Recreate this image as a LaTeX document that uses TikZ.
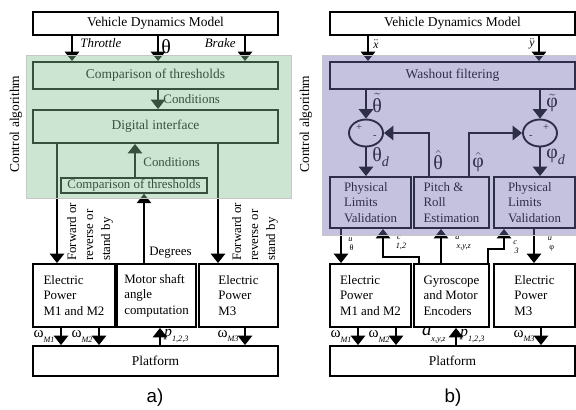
\documentclass[tikz,border=0pt]{standalone}
\usepackage{fontspec}
\setmainfont{Liberation Serif}
\newfontfamily\panelfont{Liberation Sans}
\usepackage{tikz}
\usetikzlibrary{arrows.meta,shapes.geometric}
\definecolor{ctrlgreen}{RGB}{133, 193, 150}
\definecolor{ctrlpurple}{RGB}{114, 110, 176}
\newcommand\lowsub[1]{\raisebox{-0.7ex}{\fontsize{7}{7}\selectfont\itshape #1}}
\tikzset{
  block/.style={draw, line width=1.6pt, inner sep=0pt, align=left,
    font=\fontsize{11}{13.2}\selectfont},
  wide/.style={block, minimum width=7.35cm, font=\fontsize{11.5}{13.2}\selectfont},
  sumnode/.style={draw, ellipse, line width=1.6pt, minimum width=1.02cm, minimum height=0.81cm, inner sep=0pt},
  flow/.style={line width=2.4pt, -{Triangle[width=12pt,length=8pt]}},
  lbl/.style={inner sep=1pt, font=\fontsize{11}{13}\selectfont},
  big/.style={inner sep=1pt, font=\fontsize{17}{17}\selectfont},
  tinylbl/.style={inner sep=0pt, align=left, font=\fontsize{7}{7.5}\selectfont},
  sign/.style={inner sep=0pt, font=\fontsize{9}{9}\selectfont},
  bgbox/.style={draw=black!22, line width=0.8pt, fill opacity=0.42}
}

\begin{document}
\begin{tikzpicture}[x=0.03cm,y=-0.03cm]
\useasboundingbox (0,0) rectangle (576,409);

\node[wide, minimum height=0.69cm] (vdmA) at (155.5,23.5) {Vehicle Dynamics Model};
\node[wide, minimum height=0.81cm] (cmpA) at (155.5,75.5) {Comparison of thresholds};
\node[wide, minimum height=0.99cm] (digA) at (155.5,126.5) {Digital interface};
\node[block, line width=1.2pt, minimum width=4.38cm, minimum height=0.45cm] (smallA) at (134,185.5) {Comparison of thresholds};
\node[block, minimum width=2.46cm, minimum height=1.89cm] (epA1) at (74,295.5) {Electric\\Power\\M1 and M2};
\node[block, minimum width=2.37cm, minimum height=1.89cm] (motA) at (156.5,295.5) {Motor shaft\\angle\\computation};
\node[block, minimum width=2.37cm, minimum height=1.89cm] (epA3) at (238.5,295.5) {Electric\\Power\\M3};
\node[wide, minimum height=0.9cm] (platA) at (155.5,361) {Platform};

\draw[flow] (vdmA.south -| 72,0) -- (cmpA.north -| 72,0);
\draw[flow] (vdmA.south -| 158,0) -- (cmpA.north -| 158,0);
\draw[flow] (vdmA.south -| 245,0) -- (cmpA.north -| 245,0);
\draw[flow] (cmpA.south -| 158,0) -- (digA.north -| 158,0);
\draw[flow] (digA.south -| 57,0) -- (epA1.north -| 57,0);
\draw[flow] (digA.south -| 218,0) -- (epA3.north -| 218,0);
\draw[flow] (smallA.north -| 135,0) -- (digA.south -| 135,0);
\draw[flow] (motA.north -| 144,0) -- (smallA.south -| 144,0);
\draw[flow] (epA1.south -| 61,0) -- (platA.north -| 61,0);
\draw[flow] (epA1.south -| 99,0) -- (platA.north -| 99,0);
\draw[flow] (platA.north -| 160,0) -- (motA.south -| 160,0);
\draw[flow] (epA3.south -| 245,0) -- (platA.north -| 245,0);

\node[lbl, anchor=west, font=\fontsize{11}{13}\selectfont\itshape] (throttle) at (79,43) {Throttle};
\node[big, anchor=west] (thetaA) at (160,47) {θ};
\node[lbl, anchor=east, font=\fontsize{11}{13}\selectfont\itshape] (brake) at (237,43) {Brake};
\node[lbl, anchor=west] (condA1) at (162,99) {Conditions};
\node[lbl, anchor=west] (condA2) at (142,162) {Conditions};
\node[lbl, anchor=west] (degrees) at (148,253) {Degrees};
\node[lbl, rotate=90, align=left, font=\fontsize{11}{14.5}\selectfont] (fwdA1) at (90,232) {Forward or\\reverse or\\stand by};
\node[lbl, rotate=90, align=left, font=\fontsize{11}{14.5}\selectfont] (fwdA3) at (255,232) {Forward or\\reverse or\\stand by};
\node[big, anchor=east, font=\fontsize{13}{13}\selectfont] (omA1) at (56,336) {ω\lowsub{M1}};
\node[big, anchor=east, font=\fontsize{13}{13}\selectfont] (omA2) at (94,336) {ω\lowsub{M2}};
\node[big, anchor=west, font=\fontsize{13}{13}\selectfont] (pA) at (163,336) {\textit{p}\lowsub{1,2,3}};
\node[big, anchor=east, font=\fontsize{13}{13}\selectfont] (omA3) at (240,336) {ω\lowsub{M3}};

\fill[ctrlgreen, bgbox] (26,55) rectangle (291,198);
\node[lbl, rotate=90, font=\fontsize{11.5}{13}\selectfont] (ctrlA) at (16,124) {Control algorithm};
\node[font=\panelfont\fontsize{16}{16}\selectfont] (capA) at (155,398) {a)};

\node[wide, minimum height=0.69cm] (vdmB) at (452.5,23.5) {Vehicle Dynamics Model};
\node[wide, minimum height=0.81cm] (washB) at (452.5,75.5) {Washout filtering};
\node[sumnode] (sumL) at (366,133) {};
\node[sumnode] (sumR) at (540,133) {};
\node[block, minimum width=2.43cm, minimum height=1.53cm] (plvB1) at (370.5,202.5) {Physical\\Limits\\Validation};
\node[block, minimum width=2.25cm, minimum height=1.53cm] (prB) at (451.5,202.5) {Pitch \&\\Roll\\Estimation};
\node[block, minimum width=2.43cm, minimum height=1.53cm] (plvB3) at (534.5,202.5) {Physical\\Limits\\Validation};
\node[block, minimum width=2.43cm, minimum height=1.89cm] (epB1) at (370.5,295.5) {Electric\\Power\\M1 and M2};
\node[block, minimum width=2.25cm, minimum height=1.89cm] (gyroB) at (451.5,295.5) {Gyroscope\\and Motor\\Encoders};
\node[block, minimum width=2.43cm, minimum height=1.89cm] (epB3) at (534.5,295.5) {Electric\\Power\\M3};
\node[wide, minimum height=0.9cm] (platB) at (452.5,361) {Platform};

\draw[flow] (vdmB.south -| 368,0) -- (washB.north -| 368,0);
\draw[flow] (vdmB.south -| 539,0) -- (washB.north -| 539,0);
\draw[flow] (washB.south -| sumL) -- (sumL.north);
\draw[flow] (washB.south -| sumR) -- (sumR.north);
\draw[flow] (sumL.south) -- (plvB1.north -| sumL);
\draw[flow] (sumR.south) -- (plvB3.north -| sumR);
\draw[flow] (prB.north -| 429,0) |- (sumL.east);
\draw[flow] (prB.north -| 469,0) |- (sumR.west);
\draw[flow] (plvB1.south -| 341,0) -- (epB1.north -| 341,0);
\draw[flow] (gyroB.north -| 419,0) -- (419,257) -| (plvB1.south -| 383,0);
\draw[flow] (gyroB.north -| 441,0) -- (prB.south -| 441,0);
\draw[flow] (gyroB.north -| 488,0) -- (488,249) -| (plvB3.south -| 504,0);
\draw[flow] (plvB3.south -| 534,0) -- (epB3.north -| 534,0);
\draw[flow] (epB1.south -| 358,0) -- (platB.north -| 358,0);
\draw[flow] (epB1.south -| 396,0) -- (platB.north -| 396,0);
\draw[flow] (platB.north -| 456,0) -- (gyroB.south -| 456,0);
\draw[flow] (epB3.south -| 541,0) -- (platB.north -| 541,0);

\node[lbl, anchor=west, font=\fontsize{10}{10}\selectfont] (xdd) at (372,44) {$\ddot{\mbox{\itshape x}}$};
\node[lbl, anchor=east, font=\fontsize{10}{10}\selectfont] (ydd) at (536,44) {$\ddot{\mbox{\itshape y}}$};
\node[big, anchor=west] (thetaT) at (371,103) {$\tilde{\mbox{θ}}$};
\node[big, anchor=west] (phiT) at (545,103) {$\tilde{\mbox{φ}}$};
\node[big, anchor=west] (thetaD) at (371,157) {θ\raisebox{-0.6ex}{\fontsize{12}{12}\selectfont\itshape d}};
\node[big, anchor=west] (phiD) at (545,157) {φ\raisebox{-0.6ex}{\fontsize{12}{12}\selectfont\itshape d}};
\node[big, anchor=west] (thetaH) at (432,160) {$\hat{\mbox{θ}}$};
\node[big, anchor=west] (phiH) at (471,162) {$\hat{\mbox{φ}}$};
\node[sign] (plusL) at (359,128) {+};
\node[sign] (minusL) at (375,137) {-};
\node[sign] (minusR) at (531,137) {-};
\node[sign] (plusR) at (546,128) {+};
\node[tinylbl] (uth) at (351,244) {\textit{u}\\\,θ};
\node[tinylbl] (c12) at (401,243) {\,\textit{c}\\\textit{1,2}};
\node[tinylbl] (axyzB) at (463,243) {\textit{a}\\\,\textit{x,y,z}};
\node[tinylbl] (c3) at (516,247) {\textit{c}\\\,\textit{3}};
\node[tinylbl] (uph) at (551,244) {\textit{u}\\\,φ};
\node[big, anchor=east, font=\fontsize{13}{13}\selectfont] (omB1) at (353,336) {ω\lowsub{M1}};
\node[big, anchor=east, font=\fontsize{13}{13}\selectfont] (omB2) at (391,336) {ω\lowsub{M2}};
\node[big, anchor=east, font=\fontsize{16}{16}\selectfont] (aB) at (447,335) {\textit{a}\lowsub{x,y,z}};
\node[big, anchor=west, font=\fontsize{13}{13}\selectfont] (pB) at (459,336) {\textit{p}\lowsub{1,2,3}};
\node[big, anchor=east, font=\fontsize{13}{13}\selectfont] (omB3) at (536,336) {ω\lowsub{M3}};

\fill[ctrlpurple, bgbox] (322,55) rectangle (577,235);
\node[lbl, rotate=90, font=\fontsize{11.5}{13}\selectfont] (ctrlB) at (306,124) {Control algorithm};
\node[font=\panelfont\fontsize{16}{16}\selectfont] (capB) at (453,398) {b)};
\end{tikzpicture}
\end{document}
